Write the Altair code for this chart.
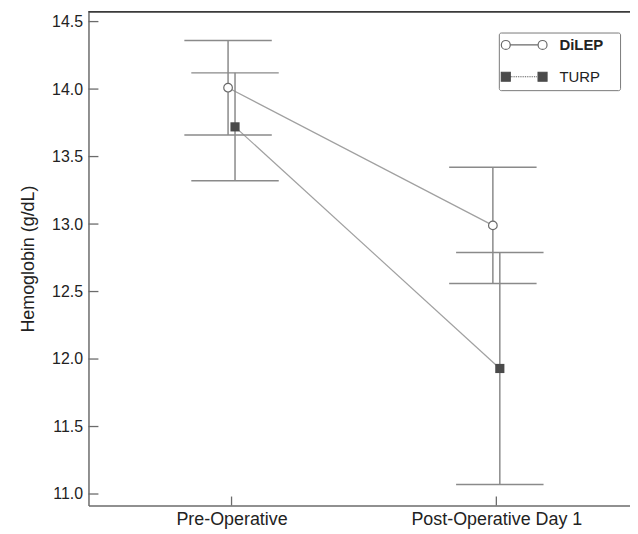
import altair as alt
import pandas as pd

# ---- data ----
timepoints = ["Pre-Operative", "Post-Operative Day 1"]
series_names = ["DiLEP", "TURP"]
dilep_mean = [14.01, 12.99]
dilep_low = [13.66, 12.56]
dilep_high = [14.36, 13.42]
turp_mean = [13.72, 11.93]
turp_low = [13.32, 11.07]
turp_high = [14.12, 12.79]
y_ticks = [11.0, 11.5, 12.0, 12.5, 13.0, 13.5, 14.0, 14.5]

rows = []
for name, m, lo, hi in [("DiLEP", dilep_mean, dilep_low, dilep_high),
                        ("TURP", turp_mean, turp_low, turp_high)]:
    for t, a, b, c in zip(timepoints, m, lo, hi):
        rows.append({"series": name, "time": t, "mean": a, "low": b, "high": c})
df = pd.DataFrame(rows)
tick_df = pd.DataFrame({"tick": y_ticks})
time_df = pd.DataFrame({"time": timepoints})

W, H = 545, 497
FONT = "Liberation Sans"
ERR = "#8a8a8a"
LINE = "#a0a0a0"

x_scale = alt.Scale(type="point", padding=0.5225, align=0.517, domain=timepoints)
y_scale = alt.Scale(domain=[10.915, 14.5735], nice=False, zero=False)

x_axis = alt.Axis(title=None, labelAngle=0, ticks=False, grid=False,
                  labelFontSize=18, labelPadding=5, labelColor="#222",
                  domainColor="#6b6b6b", domainWidth=1.5)
y_axis = alt.Axis(title="Hemoglobin (g/dL)", values=y_ticks, format=".1f",
                  ticks=False, grid=False, labelFontSize=16, labelPadding=6,
                  labelColor="#222", titleFontSize=18, titleFontWeight="normal",
                  titleColor="#222", titlePadding=14,
                  domainColor="#6b6b6b", domainWidth=1.5)

X = alt.X("time:N", scale=x_scale, axis=x_axis, sort=timepoints)

layers = []
offsets = {"DiLEP": -3.5, "TURP": 3.5}
for name in series_names:
    o = offsets[name]
    base = alt.Chart(df).transform_filter(alt.datum.series == name)
    layers.append(base.mark_line(xOffset=o, color=LINE, strokeWidth=1.2).encode(
        x=X, y=alt.Y("mean:Q", scale=y_scale, axis=y_axis)))
for name in series_names:
    o = offsets[name]
    base = alt.Chart(df).transform_filter(alt.datum.series == name)
    layers.append(base.mark_rule(xOffset=o, color=ERR, strokeWidth=1.5).encode(
        x=X, y=alt.Y("low:Q", scale=y_scale, axis=y_axis), y2="high:Q"))
    layers.append(base.mark_tick(orient="horizontal", size=88, thickness=1.5,
                                 xOffset=o, color=ERR, opacity=1).encode(
        x=X, y=alt.Y("low:Q", scale=y_scale, axis=y_axis)))
    layers.append(base.mark_tick(orient="horizontal", size=88, thickness=1.5,
                                 xOffset=o, color=ERR, opacity=1).encode(
        x=X, y=alt.Y("high:Q", scale=y_scale, axis=y_axis)))

dil = alt.Chart(df).transform_filter(alt.datum.series == "DiLEP")
layers.append(dil.mark_point(shape="circle", size=75, filled=True, fill="white",
                             stroke="#6a6a6a", strokeWidth=1.2, opacity=1,
                             xOffset=offsets["DiLEP"]).encode(
    x=X, y=alt.Y("mean:Q", scale=y_scale, axis=y_axis)))
tur = alt.Chart(df).transform_filter(alt.datum.series == "TURP")
layers.append(tur.mark_point(shape="square", size=85, filled=True, color="#4a4a4a",
                             opacity=1, xOffset=offsets["TURP"]).encode(
    x=X, y=alt.Y("mean:Q", scale=y_scale, axis=y_axis)))

# axis ticks pointing inward
layers.append(alt.Chart(tick_df).mark_tick(orient="horizontal", size=10, thickness=1.3,
                                           color="#6b6b6b", opacity=1).encode(
    y=alt.Y("tick:Q", scale=y_scale, axis=y_axis), x=alt.value(5)))
layers.append(alt.Chart(time_df).mark_tick(orient="vertical", size=9, thickness=1.3,
                                           color="#6b6b6b", opacity=1).encode(
    x=X, y=alt.value(H - 4.5)))

# top frame line
layers.append(alt.Chart(time_df).mark_rule(color="#3a3a3a", strokeWidth=1.5).encode(
    x=alt.value(0), x2=alt.value(W), y=alt.value(0)))

# legend-only layer with custom line+marker symbols
def circ(cx, r=0.9):
    return (f"M{cx - r},0A{r},{r},0,1,1,{cx + r},0A{r},{r},0,1,1,{cx - r},0Z")

def sq(cx, r=0.9):
    return f"M{cx - r},{-r}L{cx + r},{-r}L{cx + r},{r}L{cx - r},{r}Z"

dilep_path = circ(-3.7) + "M-2.8,0L2.8,0" + circ(3.7)
dots = ""
xx = -2.7
while xx < 2.7:
    dots += f"M{xx:.2f},0L{xx + 0.18:.2f},0"
    xx += 0.36
turp_path = sq(-3.7) + dots + sq(3.7)

legend = alt.Legend(title=None, orient="none", legendX=413, legendY=21,
                    symbolSize=100, symbolStrokeWidth=1.2, symbolOffset=13,
                    labelOffset=28, labelFontSize=15, labelFont=FONT,
                    labelColor="#222",
                    labelFontWeight=alt.ExprRef(expr="datum.label == 'DiLEP' ? 'bold' : 'normal'"),
                    labelExpr="datum.label + '\u2800'",
                    rowPadding=16, padding=5, strokeColor="#7a7a7a",
                    fillColor="white", cornerRadius=2, symbolOpacity=1)

leg_layer = alt.Chart(df).transform_filter("false").mark_point(filled=True, opacity=1).encode(
    x=X, y=alt.Y("mean:Q", scale=y_scale, axis=y_axis),
    shape=alt.Shape("series:N", scale=alt.Scale(domain=series_names,
                                                 range=[dilep_path, turp_path]),
                    legend=legend),
    fill=alt.Fill("series:N", scale=alt.Scale(domain=series_names,
                                               range=["white", "#4a4a4a"]),
                  legend=legend),
    stroke=alt.Stroke("series:N", scale=alt.Scale(domain=series_names,
                                                   range=["#6a6a6a", "#4a4a4a"]),
                      legend=legend),
)
layers.append(leg_layer)

chart = alt.layer(*layers).properties(
    width=W, height=H,
    autosize=alt.AutoSizeParams(type="none"),
    padding={"left": 81, "top": 2, "right": 0, "bottom": 25},
).configure(font=FONT).configure_view(stroke=None)

chart.save("out.html", embed_options={"renderer": "svg", "actions": False})
